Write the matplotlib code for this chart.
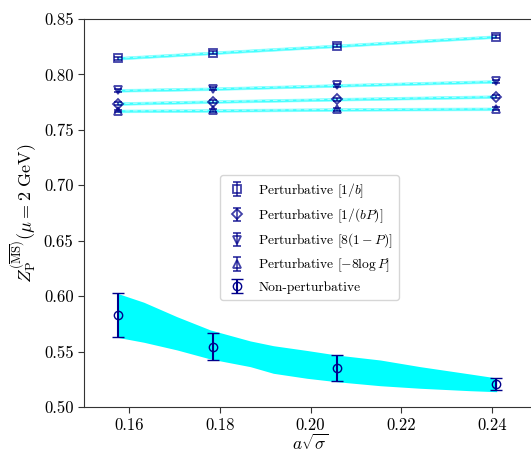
import matplotlib
matplotlib.use("Agg")
import matplotlib.pyplot as plt
import numpy as np

plt.rcParams['font.family'] = 'cmr10'
plt.rcParams['mathtext.fontset'] = 'cm'
plt.rcParams['axes.formatter.use_mathtext'] = True

# lattice spacings a*sqrt(sigma)
a_sigma = [0.1574, 0.1785, 0.2058, 0.2409]

# perturbative estimates
z_inv_b = [0.8146, 0.8195, 0.8258, 0.8341]
z_inv_bP = [0.7737, 0.7755, 0.7776, 0.7800]
z_8_1mP = [0.7856, 0.7871, 0.7901, 0.7937]
z_m8logP = [0.7671, 0.7675, 0.7684, 0.7690]
z_pert_err = [0.0012, 0.0012, 0.0012, 0.0012]

# non-perturbative
z_np = [0.5830, 0.5542, 0.5352, 0.5208]
z_np_err = [0.0195, 0.0122, 0.0117, 0.0057]

# non-perturbative fit band
band_x = [0.1573, 0.1632, 0.1705, 0.1779, 0.1867, 0.1918,
          0.1992, 0.2058, 0.2154, 0.2242, 0.2352, 0.2411]
band_hi = [0.6026, 0.5945, 0.5815, 0.5695, 0.5596, 0.5553,
           0.5510, 0.5469, 0.5424, 0.5364, 0.5298, 0.5262]
band_lo = [0.5629, 0.5584, 0.5515, 0.5433, 0.5364, 0.5304,
           0.5259, 0.5228, 0.5192, 0.5169, 0.5147, 0.5138]

labels = [r'Perturbative $[1/b]$', r'Perturbative $[1/(bP)]$',
          r'Perturbative $[8(1-P)]$', r'Perturbative $[-8\log P]$',
          'Non-perturbative']

fig = plt.figure(figsize=(5.31, 4.54), dpi=100)
ax = fig.add_axes([84 / 531, 47 / 454, 453 / 531, 388 / 454])

col = '#00008B'
x = np.array(a_sigma)
err = np.array(z_pert_err)
series = [(z_inv_b, 's'), (z_inv_bP, 'D'), (z_8_1mP, 'v'), (z_m8logP, '^')]
for (vals, mk), lab in zip(series, labels[:4]):
    y = np.array(vals)
    ax.fill_between(x, y - err, y + err, color='cyan', alpha=0.75, lw=0.6,
                    edgecolor='#7fffff', zorder=2)
    ax.plot(x, y, ls=(0, (4, 3)), color='#b0ffff', lw=0.8, zorder=2.5)
    ax.errorbar(x, y, yerr=err, fmt=mk, color=col, mfc='none',
                ms=5.5 if mk != 'D' else 5,
                mew=1.3, capsize=3, elinewidth=1.2, alpha=0.75, label=lab, zorder=3)

ax.fill_between(band_x, band_lo, band_hi, color='cyan', lw=0, zorder=1)
ax.errorbar(x, z_np, yerr=z_np_err, fmt='o', color=col, mfc='none', ms=6,
            mew=1.0, capsize=4, elinewidth=1.5, capthick=1.2,
            label=labels[4], zorder=3)

ax.set_xlim(0.15, 0.25)
ax.set_ylim(0.50, 0.85)
ax.set_xticks([0.16, 0.18, 0.20, 0.22, 0.24])
ax.set_yticks(np.arange(0.50, 0.851, 0.05))
ax.xaxis.set_major_formatter(matplotlib.ticker.FormatStrFormatter('%.2f'))
ax.yaxis.set_major_formatter(matplotlib.ticker.FormatStrFormatter('%.2f'))
ax.tick_params(labelsize=12, direction='out', length=4, color='#333333')
ax.spines['right'].set_visible(False)
for s in ['left', 'bottom', 'top']:
    ax.spines[s].set_color('#333333')

ax.set_xlabel(r'$a\sqrt{\sigma}$', fontsize=12.5, labelpad=0)
ax.set_ylabel(r'$Z_{\mathrm{P}}^{(\overline{\mathrm{MS}})}(\mu=2\ \mathrm{GeV})$',
              fontsize=13, labelpad=4)

ax.legend(loc='upper left', bbox_to_anchor=(0.30, 0.598), fontsize=9.7,
          frameon=True, framealpha=0.8, edgecolor='#cccccc', handlelength=1.6,
          labelspacing=0.5, borderpad=0.45, borderaxespad=0)

fig.savefig('out.png', dpi=100)
